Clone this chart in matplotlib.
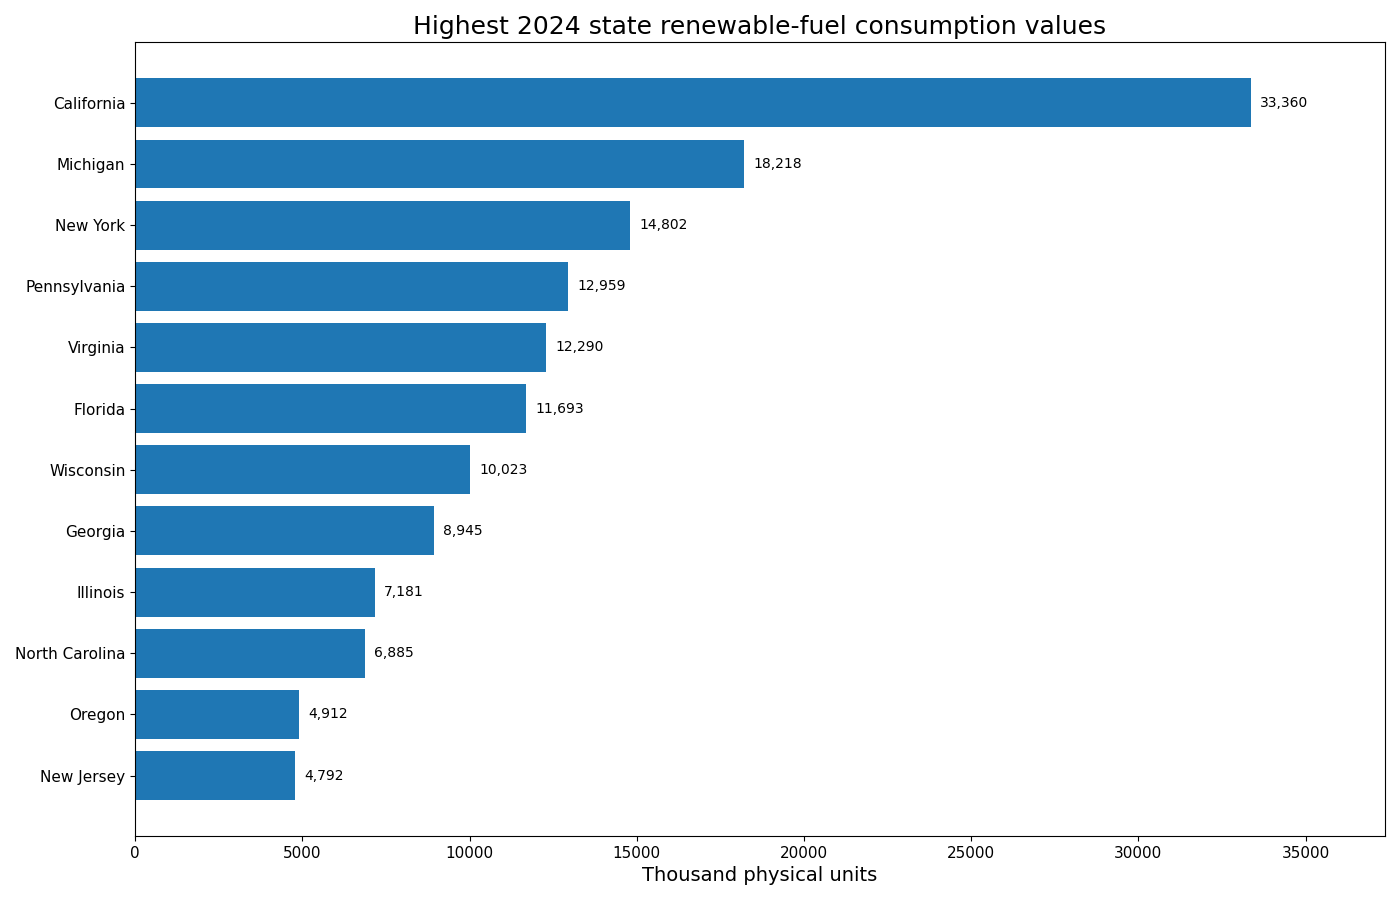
import matplotlib
matplotlib.use("Agg")
import matplotlib.pyplot as plt

states = ["California", "Michigan", "New York", "Pennsylvania", "Virginia", "Florida",
          "Wisconsin", "Georgia", "Illinois", "North Carolina", "Oregon", "New Jersey"]
values = [33360, 18218, 14802, 12959, 12290, 11693, 10023, 8945, 7181, 6885, 4912, 4792]

fig, ax = plt.subplots(figsize=(14, 9), dpi=100)
fig.subplots_adjust(left=0.0965, right=0.989, top=0.953, bottom=0.071)
ypos = list(range(len(states)))
ax.barh(ypos, values, color="#1f77b4")
ax.set_yticks(ypos)
ax.set_yticklabels(states, fontsize=11)
ax.invert_yaxis()
ax.set_xlim(0, max(values) * 1.12)
ax.tick_params(axis="x", labelsize=11)
for y, v in zip(ypos, values):
    ax.text(v + max(values) * 0.008, y, f"{v:,}", va="center", ha="left", fontsize=10)
ax.set_xlabel("Thousand physical units", fontsize=14)
ax.set_title("Highest 2024 state renewable-fuel consumption values", fontsize=18)
fig.savefig("out.png")
